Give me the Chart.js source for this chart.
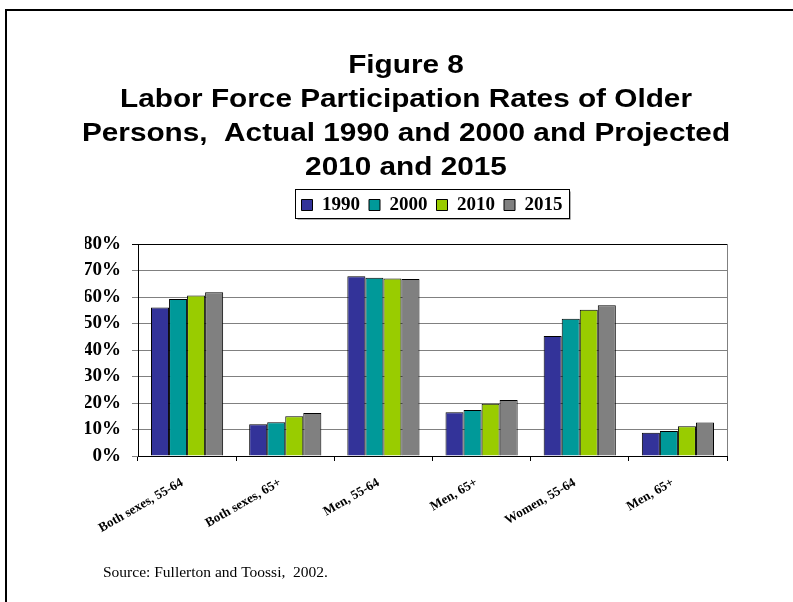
<!DOCTYPE html>
<html>
<head>
<meta charset="utf-8">
<script src="https://cdn.jsdelivr.net/npm/chart.js@4/dist/chart.umd.min.js"></script>
<style>
    html, body { margin: 0; padding: 0; background: #fff; }
    canvas { display: block; }
</style>
</head>
<body>
<canvas id="laborChart" width="793" height="602"></canvas>
<script>
// participation rates, percent
const categories = ['Both sexes, 55-64', 'Both sexes, 65+', 'Men, 55-64', 'Men, 65+', 'Women, 55-64', 'Men, 65+'];
const years = ['1990', '2000', '2010', '2015'];
const rates1990 = [56.0, 12.0, 67.8, 16.5, 45.3, 8.8];
const rates2000 = [59.2, 12.7, 67.3, 17.4, 51.8, 9.4];
const rates2010 = [60.6, 15.0, 67.0, 19.7, 55.2, 11.2];
const rates2015 = [61.8, 16.2, 66.8, 21.1, 56.9, 12.6];
const yTicks = [0, 10, 20, 30, 40, 50, 60, 70, 80];

const titleLines = [
    'Figure 8',
    'Labor Force Participation Rates of Older',
    'Persons,  Actual 1990 and 2000 and Projected',
    '2010 and 2015'
];
const sourceNote = 'Source: Fullerton and Toossi,  2002.';

const colors = ['#333399', '#009999', '#99CC00', '#808080'];
const series = [rates1990, rates2000, rates2010, rates2015];

// wide bold heading drawn above the legend
const heading = {
    id: 'heading',
    afterDraw(chart) {
        const ctx = chart.ctx;
        ctx.save();
        ctx.fillStyle = '#000';
        ctx.font = 'bold 25px "Liberation Sans", Arial';
        ctx.textAlign = 'center';
        ctx.textBaseline = 'alphabetic';
        titleLines.forEach((line, i) => {
            ctx.save();
            ctx.translate(406, 72.5 + i * 34.2);
            ctx.scale(1.19, 1);
            ctx.fillText(line, 0, 0);
            ctx.restore();
        });
        ctx.restore();
    }
};

// legend: extra room under it, shifted right, with a frame around the items
const legendBox = {
    id: 'legendBox',
    beforeInit(chart) {
        const fit = chart.legend.fit;
        chart.legend.fit = function () {
            fit.bind(chart.legend)();
            this.height += 23;
        };
    },
    afterLayout(chart) {
        const lg = chart.legend;
        lg.left += 26;
        lg.right += 26;
        lg.top += 3.5;
    },
    afterDraw(chart) {
        const boxes = chart.legend.legendHitBoxes;
        if (!boxes || !boxes.length) return;
        const ctx = chart.ctx;
        const first = boxes[0];
        const last = boxes[boxes.length - 1];
        const x1 = Math.round(first.left - 7) + 0.5;
        const x2 = Math.round(last.left + last.width + 6) + 0.5;
        const y1 = Math.round(first.top - 7) + 0.5;
        const y2 = Math.round(first.top + 22) + 0.5;
        ctx.save();
        ctx.strokeStyle = '#b0b0b0';
        ctx.lineWidth = 1;
        ctx.beginPath();
        ctx.moveTo(x2 + 1, y1 + 2);
        ctx.lineTo(x2 + 1, y2 + 1);
        ctx.lineTo(x1 + 2, y2 + 1);
        ctx.stroke();
        ctx.strokeStyle = '#000';
        ctx.strokeRect(x1, y1, x2 - x1, y2 - y1);
        ctx.restore();
    }
};

// page frame, right edge of the plot and the source line
const decorations = {
    id: 'decorations',
    afterDraw(chart) {
        const ctx = chart.ctx;
        const area = chart.chartArea;
        ctx.save();
        ctx.strokeStyle = '#808080';
        ctx.lineWidth = 1;
        ctx.beginPath();
        ctx.moveTo(Math.round(area.right) + 0.5, area.top);
        ctx.lineTo(Math.round(area.right) + 0.5, area.bottom);
        ctx.stroke();

        ctx.strokeStyle = '#000';
        ctx.lineWidth = 2;
        ctx.beginPath();
        ctx.moveTo(6, 602);
        ctx.lineTo(6, 10);
        ctx.lineTo(793, 10);
        ctx.stroke();

        ctx.fillStyle = '#000';
        ctx.font = '15.5px "Liberation Serif"';
        ctx.textBaseline = 'alphabetic';
        ctx.fillText(sourceNote, 103, 577);
        ctx.restore();
    }
};

new Chart(document.getElementById('laborChart'), {
    type: 'bar',
    data: {
        labels: categories,
        datasets: years.map((year, i) => ({
            label: year,
            data: series[i],
            backgroundColor: colors[i],
            borderColor: '#000',
            borderWidth: 1,
            categoryPercentage: 0.735,
            barPercentage: 1.0
        }))
    },
    options: {
        responsive: false,
        animation: false,
        layout: {padding: {left: 85, right: 66, top: 183, bottom: 0}},
        plugins: {
            tooltip: {enabled: false},
            title: {display: false},
            legend: {
                display: true,
                position: 'top',
                labels: {
                    color: '#000',
                    font: {family: '"Liberation Serif", "Times New Roman"', size: 19, weight: 'bold'},
                    boxWidth: 11,
                    boxHeight: 11,
                    padding: 9
                }
            }
        },
        scales: {
            x: {
                grid: {
                    display: true,
                    drawOnChartArea: false,
                    drawTicks: true,
                    tickLength: 5,
                    color: '#000'
                },
                border: {display: true, color: '#000', width: 1},
                ticks: {
                    color: '#000',
                    font: {family: '"Liberation Serif", "Times New Roman"', size: 13, weight: 'bold'},
                    minRotation: 30,
                    maxRotation: 30,
                    autoSkip: false,
                    padding: 14,
                    labelOffset: -5
                },
                afterFit(scale) {
                    scale.height = 146;
                }
            },
            y: {
                min: 0,
                max: 80,
                afterBuildTicks(scale) {
                    scale.ticks = yTicks.map(v => ({value: v}));
                },
                grid: {
                    color: ctx => (ctx.tick && ctx.tick.value === 80) ? '#000' : '#808080',
                    lineWidth: 1,
                    tickLength: 6
                },
                border: {display: true, color: '#000', width: 1},
                ticks: {
                    color: '#000',
                    font: {family: '"Liberation Serif", "Times New Roman"', size: 19, weight: 'bold'},
                    padding: 11,
                    callback: v => v + '%'
                },
                afterFit(scale) {
                    scale.width = 53;
                }
            }
        }
    },
    plugins: [heading, legendBox, decorations]
});
</script>
</body>
</html>
